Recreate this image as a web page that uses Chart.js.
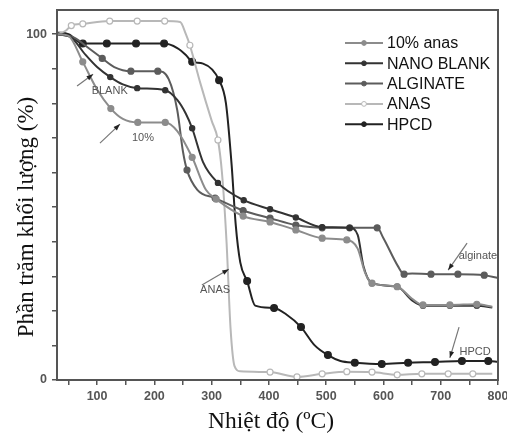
<!DOCTYPE html>
<html>
<head>
<meta charset="utf-8">
<script src="https://cdn.jsdelivr.net/npm/chart.js@4"></script>
<style>
html, body { margin: 0; padding: 0; background: #fff; }
#wrap { width: 507px; height: 440px; }
</style>
</head>
<body>
<div id="wrap"><canvas id="tgaChart" width="507" height="440"></canvas></div>
<script>
// TGA curves, temperature (oC) vs mass percent

const seriesNames = ['10% anas', 'NANO BLANK', 'ALGINATE', 'ANAS', 'HPCD'];

const anas10T = [30, 50, 75, 100, 124, 145, 171, 219, 240, 266, 290, 308, 355, 402, 447, 493, 536, 555, 568, 580, 624, 650, 669, 716, 763, 790];
const anas10V = [100, 99.5, 92, 84, 78.5, 75.5, 74.5, 74.5, 72, 64.4, 55, 52.3, 47.4, 45.7, 43.4, 41, 40.5, 38, 31, 28, 27, 23.5, 21.7, 21.7, 21.9, 21.2];
const anas10Marks = [75, 124, 171, 219, 266, 308, 355, 402, 447, 493, 536, 580, 624, 669, 716, 763];

const blankT = [30, 55, 80, 100, 123, 145, 170, 219, 240, 255, 266, 285, 311, 356, 402, 447, 493, 541, 555, 565, 580, 624, 650, 669, 716, 763, 790];
const blankV = [100, 99, 94, 90.5, 87.6, 85.5, 84.4, 83.8, 81, 77, 72.8, 63, 57, 52, 49.4, 47, 44.2, 44, 42, 33, 28, 27, 23, 21.5, 21.5, 21.5, 21];
const blankMarks = [123, 170, 219, 266, 311, 356, 402, 447, 493, 541, 580, 624, 669, 716, 763];

const alginateT = [30, 60, 85, 109, 130, 159, 206, 225, 240, 250, 257, 275, 306, 355, 402, 447, 493, 541, 589, 600, 625, 636, 650, 683, 730, 776, 800];
const alginateV = [100, 99, 96, 93, 90.5, 89.3, 89.3, 87, 78, 66, 60.7, 55, 52.6, 49, 46.8, 44.8, 44, 44, 44, 41, 33, 30.6, 30.8, 30.6, 30.6, 30.3, 29.5];
const alginateMarks = [109, 159, 206, 257, 306, 355, 402, 447, 493, 541, 589, 636, 683, 730, 776];

const anasT = [30, 45, 55, 75, 122, 170, 218, 245, 255, 262, 280, 300, 311, 318, 326, 333, 340, 350, 402, 449, 493, 536, 580, 624, 667, 713, 756, 790];
const anasV = [100, 101, 102.5, 103, 103.8, 103.8, 103.8, 103.5, 100, 96.8, 86, 75, 69.4, 60, 40, 15, 4, 2.5, 2.3, 0.9, 1.8, 2.4, 2.3, 1.5, 1.8, 1.8, 1.8, 1.8];
const anasMarks = [55, 75, 122, 170, 218, 262, 311, 402, 449, 493, 536, 580, 624, 667, 713, 756];

const hpcdT = [30, 50, 75, 117, 168, 217, 240, 255, 266, 285, 313, 325, 335, 342, 350, 362, 376, 409, 430, 456, 480, 503, 525, 550, 597, 643, 690, 737, 783, 800];
const hpcdV = [100.5, 100, 97.3, 97.3, 97.3, 97.3, 96, 94, 92, 91.5, 86.7, 80, 62, 45, 34, 28.6, 21.5, 20.8, 19, 15.3, 10, 7.2, 5.5, 5, 4.6, 5, 5.2, 5.5, 5.5, 5.3];
const hpcdMarks = [75, 117, 168, 217, 266, 313, 362, 409, 456, 503, 550, 597, 643, 690, 737, 783];

// axis ticks
const xTickLabels = [100, 200, 300, 400, 500, 600, 700, 800];
const yTickLabels = [0, 100];

// arrows and labels written on the plot (text, text pos, arrow tail, arrow head)
const noteTexts = ['BLANK', '10%', 'ANAS', 'alginate', 'HPCD'];
const notePos = [[122, 83.5], [180, 70], [306, 26], [765, 36], [760, 8]];
const noteTail = [[65, 85], [105, 68.5], [283, 27.5], [746, 39.6], [732, 15.3]];
const noteHead = [[93, 88.4], [140, 74], [330, 32], [713, 31.8], [716, 6.4]];

function toPoints(ts, vs) {
    return ts.map((t, i) => ({ x: t, y: vs[i] }));
}

function makeSet(label, ts, vs, marks, color, fill, radius) {
    return {
        label: label,
        data: toPoints(ts, vs),
        borderColor: color,
        backgroundColor: fill,
        pointBorderColor: color,
        pointBackgroundColor: fill,
        borderWidth: 2,
        pointBorderWidth: 1.2,
        pointRadius: ctx => (ctx.raw && marks.includes(ctx.raw.x)) ? radius : 0,
        cubicInterpolationMode: 'monotone',
        fill: false
    };
}

const datasets = [
    makeSet(seriesNames[0], anas10T, anas10V, anas10Marks, '#8c8c8c', '#8c8c8c', 3),
    makeSet(seriesNames[1], blankT, blankV, blankMarks, '#333333', '#333333', 2.6),
    makeSet(seriesNames[2], alginateT, alginateV, alginateMarks, '#5c5c5c', '#5c5c5c', 3),
    makeSet(seriesNames[3], anasT, anasV, anasMarks, '#b8b8b8', '#ffffff', 3),
    makeSet(seriesNames[4], hpcdT, hpcdV, hpcdMarks, '#222222', '#222222', 3.4)
];

// frame, legend, annotations and axis titles
const decorPlugin = {
    id: 'decor',
    afterDraw(chart) {
        const ctx = chart.ctx;
        const area = chart.chartArea;
        const xs = chart.scales.x;
        const ys = chart.scales.y;
        ctx.save();

        // box round the plot
        ctx.strokeStyle = '#555';
        ctx.lineWidth = 2;
        ctx.strokeRect(area.left, area.top, area.right - area.left, area.bottom - area.top);

        // legend inside the top right corner
        ctx.font = '16px Arial, "Liberation Sans", sans-serif';
        ctx.textBaseline = 'middle';
        ctx.textAlign = 'left';
        chart.data.datasets.forEach((ds, i) => {
            const y = 43 + i * 20.3;
            ctx.strokeStyle = ds.borderColor;
            ctx.lineWidth = 2;
            ctx.beginPath();
            ctx.moveTo(345, y);
            ctx.lineTo(383, y);
            ctx.stroke();
            ctx.beginPath();
            ctx.arc(364, y, 2.4, 0, Math.PI * 2);
            ctx.fillStyle = ds.pointBackgroundColor;
            ctx.fill();
            ctx.lineWidth = 1;
            ctx.stroke();
            ctx.fillStyle = '#111';
            ctx.fillText(ds.label, 387, y + 1);
        });

        // notes with arrows
        ctx.font = '11px Arial, "Liberation Sans", sans-serif';
        ctx.textAlign = 'center';
        noteTexts.forEach((txt, i) => {
            const tx = xs.getPixelForValue(notePos[i][0]);
            const ty = ys.getPixelForValue(notePos[i][1]);
            ctx.fillStyle = '#555';
            ctx.fillText(txt, tx, ty);
            const x0 = xs.getPixelForValue(noteTail[i][0]);
            const y0 = ys.getPixelForValue(noteTail[i][1]);
            const x1 = xs.getPixelForValue(noteHead[i][0]);
            const y1 = ys.getPixelForValue(noteHead[i][1]);
            const ang = Math.atan2(y1 - y0, x1 - x0);
            ctx.strokeStyle = '#777';
            ctx.lineWidth = 1.2;
            ctx.beginPath();
            ctx.moveTo(x0, y0);
            ctx.lineTo(x1, y1);
            ctx.stroke();
            ctx.fillStyle = '#222';
            ctx.beginPath();
            ctx.moveTo(x1, y1);
            ctx.lineTo(x1 - 7 * Math.cos(ang - 0.35), y1 - 7 * Math.sin(ang - 0.35));
            ctx.lineTo(x1 - 7 * Math.cos(ang + 0.35), y1 - 7 * Math.sin(ang + 0.35));
            ctx.closePath();
            ctx.fill();
        });

        // axis titles
        ctx.fillStyle = '#111';
        ctx.font = '23.5px "Liberation Serif", "Times New Roman", serif';
        ctx.textAlign = 'center';
        ctx.textBaseline = 'alphabetic';
        ctx.fillText('Nhiệt độ (ºC)', 271, 428);
        ctx.font = '23px "Liberation Serif", "Times New Roman", serif';
        ctx.translate(33, 217);
        ctx.rotate(-Math.PI / 2);
        ctx.fillText('Phần trăm khối lượng (%)', 0, 0);
        ctx.restore();
    }
};

const tickColor = '#555';

new Chart(document.getElementById('tgaChart'), {
    type: 'line',
    data: { datasets: datasets },
    options: {
        responsive: false,
        animation: false,
        devicePixelRatio: 1,
        layout: { padding: { left: 0, top: 10, right: 9, bottom: 0 } },
        plugins: {
            legend: { display: false },
            tooltip: { enabled: false }
        },
        scales: {
            x: {
                type: 'linear',
                min: 30,
                max: 800,
                afterFit: scale => {
                    scale.height = 60;
                    scale.paddingLeft = 0;
                    scale.paddingRight = 0;
                },
                border: { display: true, color: '#555', width: 2 },
                grid: { drawOnChartArea: false, drawTicks: true, tickLength: 5, color: tickColor, lineWidth: 1.5 },
                ticks: {
                    stepSize: 50,
                    includeBounds: false,
                    maxRotation: 0,
                    autoSkip: false,
                    padding: 4,
                    color: '#555',
                    font: { family: 'Arial, "Liberation Sans", sans-serif', size: 12.5, weight: 'bold' },
                    callback: v => xTickLabels.includes(v) ? String(v) : ''
                }
            },
            y: {
                min: 0,
                max: 107,
                afterFit: scale => {
                    scale.width = 57;
                    scale.paddingTop = 0;
                    scale.paddingBottom = 0;
                },
                border: { display: true, color: '#555', width: 2 },
                grid: { drawOnChartArea: false, drawTicks: true, tickLength: 5, color: tickColor, lineWidth: 1.5 },
                ticks: {
                    stepSize: 10,
                    includeBounds: false,
                    autoSkip: false,
                    padding: 5,
                    color: '#555',
                    font: { family: 'Arial, "Liberation Sans", sans-serif', size: 12.5, weight: 'bold' },
                    callback: v => yTickLabels.includes(v) ? String(v) : ''
                }
            }
        }
    },
    plugins: [decorPlugin]
});
</script>
</body>
</html>
